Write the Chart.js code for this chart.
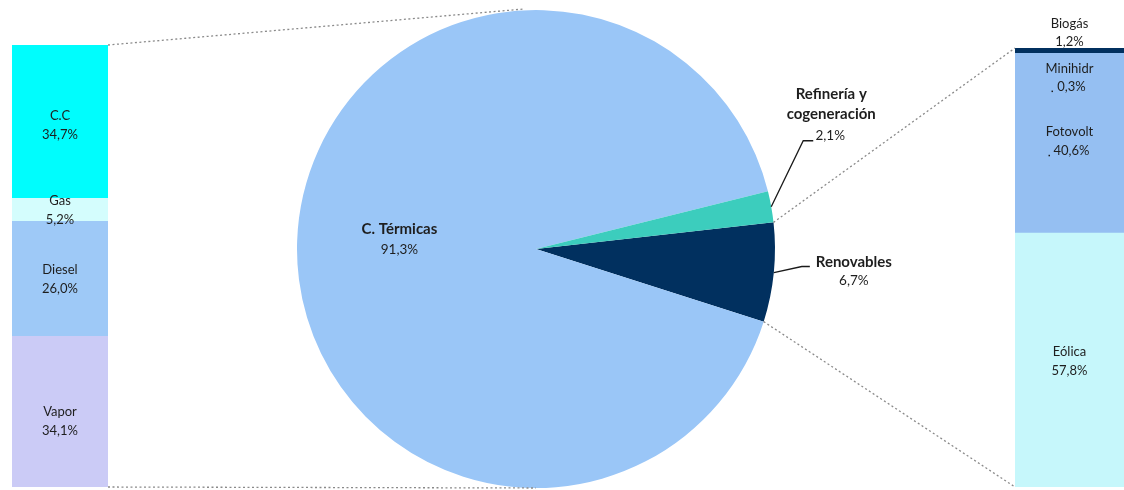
<!DOCTYPE html>
<html><head><meta charset="utf-8">
<script src="https://cdn.jsdelivr.net/npm/chart.js@4.4.0/dist/chart.umd.min.js"></script>
<style>
html,body{margin:0;padding:0;background:#fff;}
#wrap{position:relative;width:1124px;height:490px;overflow:hidden;background:#fff;}
canvas{position:absolute;}
</style></head><body>
<div id="wrap">
<canvas id="pie" width="1124" height="490" style="left:0;top:0;width:1124px;height:490px"></canvas>
<canvas id="left" width="96" height="442" style="left:12px;top:45px;width:96px;height:442px"></canvas>
<canvas id="right" width="109" height="439" style="left:1015px;top:48px;width:109px;height:439px"></canvas>
<canvas id="over" width="1124" height="490" style="left:0;top:0;width:1124px;height:490px"></canvas>
</div>
<script>
// ---- data ----
const pieLabels = ['Renovables', 'C. Térmicas', 'Refinería y cogeneración'];
const pieValues = [6.7, 91.3, 2.1];
const pieColors = ['#01305f', '#9ac6f7', '#3ccdbd'];

const leftLabels = ['Vapor', 'Diesel', 'Gas', 'C.C'];
const leftValues = [34.1, 26.0, 5.2, 34.7];
const leftColors = ['#cbcbf6', '#9ec9f7', '#d4fdfd', '#00fdfd'];

const rightLabels = ['Eólica', 'Fotovolt', 'Minihidr', 'Biogás'];
const rightValues = [57.8, 40.6, 0.3, 1.2];
const rightColors = ['#c6f7fb', '#95bff2', '#95bff2', '#01305f'];

const FONT = 'Lato, "DejaVu Sans", sans-serif';
const fmt = v => v.toFixed(1).replace('.', ',') + '%';

// ---- pie ----
const pie = new Chart(document.getElementById('pie'), {
  type: 'pie',
  data: { labels: pieLabels, datasets: [{ data: pieValues, backgroundColor: pieColors, borderWidth: 0 }] },
  options: {
    responsive: false, animation: false, rotation: 83.6,
    layout: { padding: { left: 297, right: 349, top: 10, bottom: 2 } },
    plugins: { legend: { display: false }, tooltip: { enabled: false } }
  }
});

function barChart(id, labels, values, colors) {
  const total = values.reduce((a, b) => a + b, 0);
  return new Chart(document.getElementById(id), {
    type: 'bar',
    data: {
      labels: [''],
      datasets: labels.map((l, i) => ({
        label: l, data: [values[i]], backgroundColor: colors[i], borderWidth: 0,
        barPercentage: 1, categoryPercentage: 1
      }))
    },
    options: {
      responsive: false, animation: false, layout: { padding: 0 },
      plugins: { legend: { display: false }, tooltip: { enabled: false } },
      scales: {
        x: { stacked: true, display: false },
        y: { stacked: true, display: false, min: 0, max: total }
      }
    }
  });
}
const leftChart = barChart('left', leftLabels, leftValues, leftColors);
const rightChart = barChart('right', rightLabels, rightValues, rightColors);

// ---- overlay: connectors and labels ----
const ctx = document.getElementById('over').getContext('2d');
const LOFF = { x: 12, y: 45 }, ROFF = { x: 1015, y: 48 };

function segs(chart, off) {
  return chart.data.datasets.map((d, i) => {
    const el = chart.getDatasetMeta(i).data[0];
    return { x: el.x + off.x, top: el.y + off.y, bottom: el.base + off.y, w: el.width, left: el.x - el.width / 2 + off.x, right: el.x + el.width / 2 + off.x };
  });
}
const L = segs(leftChart, LOFF), R = segs(rightChart, ROFF);
const arcs = pie.getDatasetMeta(0).data;
const cx = arcs[0].x, cy = arcs[0].y, rad = arcs[0].outerRadius;
const pt = (a, r) => ({ x: cx + Math.cos(a) * r, y: cy + Math.sin(a) * r });

function dotted(a, b) {
  ctx.save();
  ctx.strokeStyle = '#8a8a8a'; ctx.lineWidth = 1.3; ctx.setLineDash([2, 2.5]);
  ctx.beginPath(); ctx.moveTo(a.x, a.y); ctx.lineTo(b.x, b.y); ctx.stroke();
  ctx.restore();
}
// left connectors
const lTop = Math.min(...L.map(s => s.top)), lBot = Math.max(...L.map(s => s.bottom));
dotted({ x: L[0].right, y: lTop }, { x: cx - 12, y: cy - rad - 1 });
dotted({ x: L[0].right, y: lBot }, { x: cx, y: lBot + 1 });
// right connectors from Renovables arc edges
const ren = arcs[0];
const rTop = Math.min(...R.map(s => s.top)), rBot = Math.max(...R.map(s => s.bottom));
dotted(pt(ren.startAngle, rad), { x: R[0].left, y: rTop });
dotted(pt(ren.endAngle, rad), { x: R[0].left, y: rBot });

function text(t, x, y, size, bold) {
  ctx.font = (bold ? 'bold ' : '') + size + 'px ' + FONT;
  ctx.fillStyle = '#1e1e1e'; ctx.textAlign = 'center'; ctx.textBaseline = 'middle';
  ctx.fillText(t, x, y);
}
function solid(points) {
  ctx.save(); ctx.strokeStyle = '#1a1a1a'; ctx.lineWidth = 1.3; ctx.beginPath();
  points.forEach((p, i) => i ? ctx.lineTo(p.x, p.y) : ctx.moveTo(p.x, p.y));
  ctx.stroke(); ctx.restore();
}

const TB = 15, TV = 13.5;
// pie labels
const mid = a => (a.startAngle + a.endAngle) / 2;
{
  const p = pt(mid(arcs[1]), rad * 0.58);
  text('C. Térmicas', p.x + 2, p.y - 15, TB, true);
  text(fmt(pieValues[1]), p.x + 2, p.y + 5, TV, false);
}
{
  const a = pt(mid(arcs[2]), rad);
  const k = { x: a.x + 32, y: a.y - 66 };
  solid([a, k, { x: k.x + 10, y: k.y }]);
  text('Refinería y', a.x + 60, a.y - 113, TB, true);
  text('cogeneración', a.x + 60, a.y - 93, TB, true);
  text(fmt(pieValues[2]), a.x + 59, a.y - 71, TV, false);
}
{
  const a = pt(mid(arcs[0]), rad);
  solid([a, { x: a.x + 28, y: a.y - 6 }, { x: a.x + 36, y: a.y - 6 }]);
  text('Renovables', a.x + 80, a.y - 10, TB, true);
  text(fmt(pieValues[0]), a.x + 80, a.y + 8, TV, false);
}

// bar labels
const BS = 13;
function barLabels(S, labels, values, shifts) {
  S.forEach((s, i) => {
    const c = (s.top + s.bottom) / 2 + (shifts[i] || 0);
    text(labels[i], s.x, c - 9, BS, false);
    text(fmt(values[i]), s.x, c + 10, BS, false);
  });
}
barLabels(L, leftLabels, leftValues, [9, 0, 0, 3]);
{
  const s0 = R[0], s1 = R[1], s2 = R[2], s3 = R[3];
  let c = (s0.top + s0.bottom) / 2 + 1;
  text(rightLabels[0], s0.x, c - 9, BS, false); text(fmt(rightValues[0]), s0.x, c + 10, BS, false);
  c = (s1.top + s1.bottom) / 2 - 3;
  text(rightLabels[1], s1.x, c - 9, BS, false); text(fmt(rightValues[1]), s1.x + 2, c + 10, BS, false);
  ctx.fillStyle = '#1e1e1e'; ctx.fillRect(s1.x - 21, c + 14, 1.5, 1.5);
  c = s2.bottom + 23;
  text(rightLabels[2], s2.x, c - 9, BS, false); text(fmt(rightValues[2]), s2.x + 2, c + 9, BS, false);
  ctx.fillStyle = '#1e1e1e'; ctx.fillRect(s2.x - 18, c + 13, 1.5, 1.5);
  c = s3.top - 15;
  text(rightLabels[3], s3.x, c - 9, BS, false); text(fmt(rightValues[3]), s3.x, c + 9, BS, false);
}
</script>
</body></html>
